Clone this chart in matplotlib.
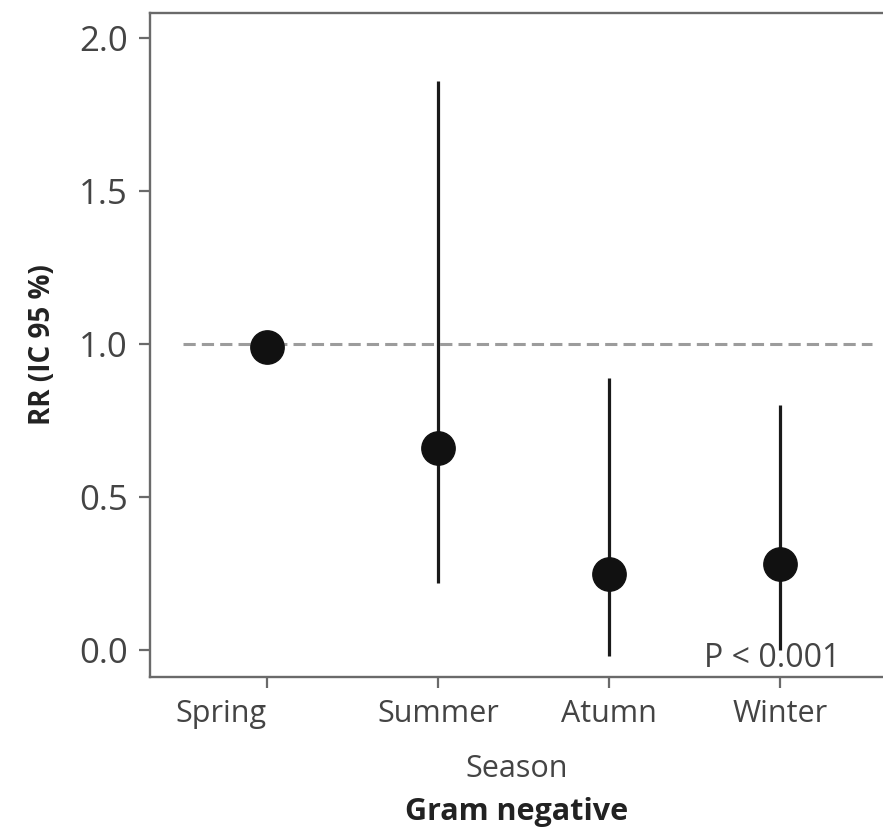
import numpy as np
import matplotlib
matplotlib.use("Agg")
from matplotlib import pyplot as plt

# Data
seasons = ["Spring", "Summer", "Atumn", "Winter"]
rr = [0.99, 0.66, 0.25, 0.28]
ci_low = [0.99, 0.22, -0.02, 0.0]
ci_high = [0.99, 1.86, 0.89, 0.80]
y_ticks = [0.0, 0.5, 1.0, 1.5, 2.0]

plt.rcParams['font.family'] = ['Open Sans', 'DejaVu Sans']

fig = plt.figure(figsize=(8.83, 8.32), dpi=100)
ax = fig.add_axes([150 / 883, 155 / 832, 733 / 883, 664 / 832])

x = np.arange(len(seasons))

# Reference line at RR = 1
ax.axhline(1.0, xmin=0.045, xmax=0.985, color="#9c9c9c", lw=2.2, ls=(0, (4, 2)), zorder=1)

# Confidence intervals and point estimates
ax.vlines(x, ci_low, ci_high, color="#1a1a1a", lw=2.3, zorder=2)
ax.plot(x, rr, "o", color="#111111", ms=24, zorder=3)

ax.set_xlim(-0.684, 3.6)
ax.set_ylim(-0.088, 2.082)
ax.set_xticks(x)
ax.set_xticklabels(seasons)
ax.set_yticks(y_ticks)
ax.set_yticklabels([f"{v:.1f}" for v in y_ticks])

for side in ["left", "bottom", "top"]:
    ax.spines[side].set_color("#6a6a6a")
    ax.spines[side].set_linewidth(1.7)
ax.spines["right"].set_visible(False)

ax.tick_params(axis="both", colors="#6a6a6a", width=1.6, length=8,
               labelcolor="#444444", pad=8)
ax.tick_params(axis="x", labelsize=22)
ax.tick_params(axis="y", labelsize=25)
# the Spring label sits left of its tick in the original
ax.get_xticklabels()[0].set_horizontalalignment("right")

ax.set_ylabel("RR (IC 95 %)", fontsize=20, fontweight="bold", color="#222222", labelpad=16)
ax.set_xlabel("Season", fontsize=22, color="#444444", labelpad=18)

ax.text(3.35, -0.083, "P < 0.001", fontsize=23, color="#444444", ha="right", va="bottom")

fig.text(517 / 883, 5 / 832, "Gram negative", fontsize=22, fontweight="bold",
         color="#222222", ha="center", va="bottom")

fig.savefig("out.png", dpi=100)
